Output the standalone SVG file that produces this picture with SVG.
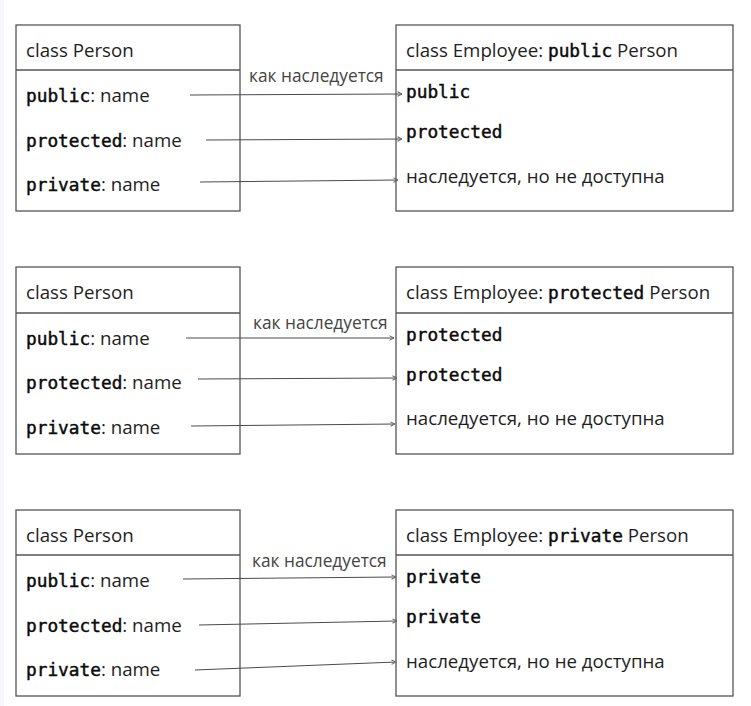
<svg xmlns="http://www.w3.org/2000/svg" width="751" height="706" viewBox="0 0 751 706">
<defs>
<marker id="ah" viewBox="0 0 6 6" refX="5.5" refY="3" markerWidth="6" markerHeight="6" markerUnits="userSpaceOnUse" orient="auto">
<path d="M1,0.8 L5.5,3 L1,5.2" fill="none" stroke="#666" stroke-width="1"/>
</marker>
<style>
.box{fill:#fff;stroke:#555;stroke-width:1.3}
.sep{stroke:#555;stroke-width:1.3}
.t{font-family:"Open Sans","Noto Sans","DejaVu Sans",sans-serif;font-size:18.7px;fill:#1e1e1e}
.m{font-family:"DejaVu Sans Mono","Liberation Mono",monospace;font-size:17.8px;font-weight:normal;fill:#0a0a0a;stroke:#0a0a0a;stroke-width:0.45px}
.lbl{font-family:"Open Sans","Noto Sans","DejaVu Sans",sans-serif;font-size:17.3px;fill:#444}
.c{fill:none;stroke:#4a4a4a;stroke-width:1;marker-end:url(#ah)}
</style>
</defs>
<rect x="0" y="0" width="751" height="706" fill="#fff"/>
<rect x="0" y="0" width="4" height="706" fill="#f6f7fa"/>

<g id="person1">
<rect class="box" x="16" y="25" width="224" height="186"/>
<line class="sep" x1="16" y1="70" x2="240" y2="70"/>
<text class="t" x="26" y="57">class Person</text>
<text class="t" x="26" y="102"><tspan class="m">public</tspan>: name</text>
<text class="t" x="26" y="147"><tspan class="m">protected</tspan>: name</text>
<text class="t" x="26" y="191"><tspan class="m">private</tspan>: name</text>
</g>
<g id="employee1">
<rect class="box" x="396" y="25" width="337" height="186"/>
<line class="sep" x1="396" y1="70" x2="733" y2="70"/>
<text class="t" x="406" y="57">class Employee: <tspan class="m">public</tspan> Person</text>
<text class="m" x="406" y="98">public</text>
<text class="m" x="406" y="138">protected</text>
<text class="t" x="406" y="183">наследуется, но не доступна</text>
</g>

<g id="person2">
<rect class="box" x="16" y="267" width="224" height="187"/>
<line class="sep" x1="16" y1="313" x2="240" y2="313"/>
<text class="t" x="26" y="299">class Person</text>
<text class="t" x="26" y="345"><tspan class="m">public</tspan>: name</text>
<text class="t" x="26" y="389"><tspan class="m">protected</tspan>: name</text>
<text class="t" x="26" y="434"><tspan class="m">private</tspan>: name</text>
</g>
<g id="employee2">
<rect class="box" x="396" y="267" width="337" height="187"/>
<line class="sep" x1="396" y1="313" x2="733" y2="313"/>
<text class="t" x="406" y="299">class Employee: <tspan class="m">protected</tspan> Person</text>
<text class="m" x="406" y="341">protected</text>
<text class="m" x="406" y="381">protected</text>
<text class="t" x="406" y="425">наследуется, но не доступна</text>
</g>

<g id="person3">
<rect class="box" x="16" y="510" width="224" height="186"/>
<line class="sep" x1="16" y1="555" x2="240" y2="555"/>
<text class="t" x="26" y="542">class Person</text>
<text class="t" x="26" y="587"><tspan class="m">public</tspan>: name</text>
<text class="t" x="26" y="632"><tspan class="m">protected</tspan>: name</text>
<text class="t" x="26" y="676"><tspan class="m">private</tspan>: name</text>
</g>
<g id="employee3">
<rect class="box" x="396" y="510" width="337" height="186"/>
<line class="sep" x1="396" y1="555" x2="733" y2="555"/>
<text class="t" x="406" y="542">class Employee: <tspan class="m">private</tspan> Person</text>
<text class="m" x="406" y="583">private</text>
<text class="m" x="406" y="623">private</text>
<text class="t" x="406" y="668">наследуется, но не доступна</text>
</g>

<g id="connectors">
<line class="c" x1="190" y1="95" x2="402" y2="94"/>
<line class="c" x1="206" y1="140" x2="402" y2="139"/>
<line class="c" x1="200" y1="182" x2="398" y2="180"/>
<line class="c" x1="186" y1="338" x2="394" y2="338"/>
<line class="c" x1="198" y1="379" x2="397" y2="378"/>
<line class="c" x1="191" y1="426" x2="395" y2="424"/>
<line class="c" x1="183" y1="579" x2="396" y2="577"/>
<line class="c" x1="199" y1="625" x2="397" y2="621"/>
<line class="c" x1="195" y1="670" x2="396" y2="662"/>
</g>
<g id="labels">
<text class="lbl" x="249" y="82">как наследуется</text>
<text class="lbl" x="253" y="329">как наследуется</text>
<text class="lbl" x="252" y="567">как наследуется</text>
</g>
</svg>
